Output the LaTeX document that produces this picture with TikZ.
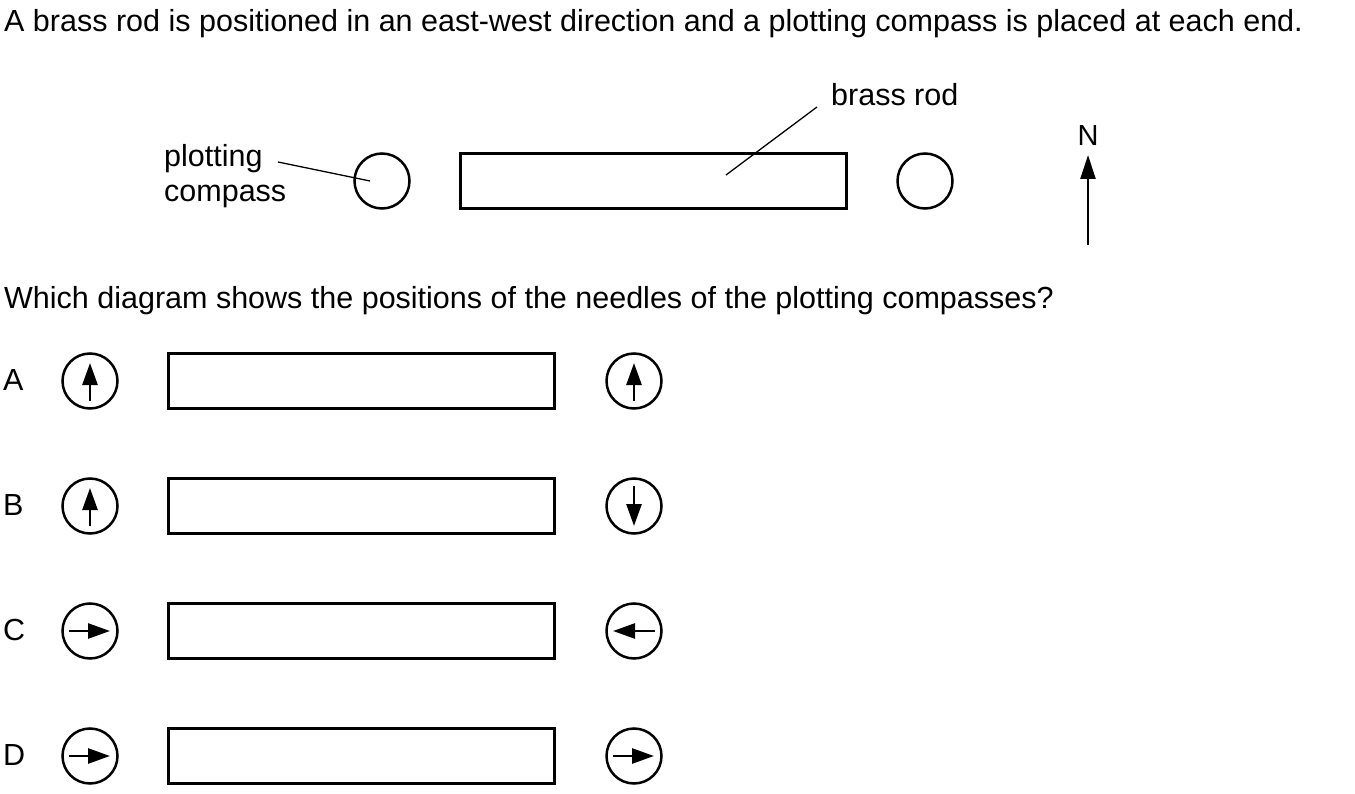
\documentclass[tikz,border=0pt]{standalone}
\usepackage{fontspec}
\setmainfont{Liberation Sans}
\usetikzlibrary{arrows.meta}
\tikzset{
  txt/.style={inner sep=0pt, anchor=base west, font=\fontsize{30.5}{35}\selectfont},
  compass/.style={draw, circle, line width=2.5pt, minimum size=55pt, inner sep=0pt},
  rod/.style={draw, rectangle, line width=2.8pt, minimum width=386pt, minimum height=55pt, inner sep=0pt},
  leader/.style={line width=1.3pt},
  needle/.style={line width=2.6pt, -{Triangle[length=22pt,width=15pt]}},
  northarrow/.style={line width=2.6pt, -{Triangle[length=24pt,width=15pt]}}
}
\begin{document}
\begin{tikzpicture}[x=1pt,y=-1pt]
\useasboundingbox (0,0) rectangle (1355,794);
% top sentence
\node[txt] (t1) at (4,32) {A brass rod is positioned in an east-west direction and a plotting compass is placed at each end.};
% top diagram
\node[compass] (pc1) at (382,181) {};
\node[rod] (rod0) at (653.5,181) {};
\node[compass] (pc2) at (925,181) {};
\node[txt] (lp) at (164,167) {plotting};
\node[txt] (lc) at (164,202) {compass};
\coordinate (lpA) at (278,162);
\coordinate (lpB) at (370,181);
\draw[leader] (lpA) -- (lpB);
\node[txt] (lb) at (831,106) {brass rod};
\coordinate (lbA) at (817,107);
\coordinate (lbB) at (726,175);
\draw[leader] (lbA) -- (lbB);
\node[inner sep=0pt, anchor=base, font=\fontsize{29}{33}\selectfont] (N) at (1088,146) {N};
\coordinate (nA) at (1088,245);
\coordinate (nB) at (1088,155);
\draw[northarrow] (nA) -- (nB);
% question
\node[txt] (t2) at (4,309) {Which diagram shows the positions of the needles of the plotting compasses?};
% options
\foreach \lab/\y in {A/381,B/506,C/631,D/756}{
  \node[txt] (L\lab) at (3,\y+9) {\lab};
  \node[compass] (cl\lab) at (90,\y) {};
  \node[rod] (r\lab) at (361.5,\y) {};
  \node[compass] (cr\lab) at (634,\y) {};
}
% needles
\draw[needle] ([yshift=-20pt]clA.center) -- ([yshift=18pt]clA.center);
\draw[needle] ([yshift=-20pt]crA.center) -- ([yshift=18pt]crA.center);
\draw[needle] ([yshift=-20pt]clB.center) -- ([yshift=18pt]clB.center);
\draw[needle] ([yshift=20pt]crB.center) -- ([yshift=-20pt]crB.center);
\draw[needle] ([xshift=-21pt]clC.center) -- ([xshift=20pt]clC.center);
\draw[needle] ([xshift=21pt]crC.center) -- ([xshift=-21pt]crC.center);
\draw[needle] ([xshift=-21pt]clD.center) -- ([xshift=20pt]clD.center);
\draw[needle] ([xshift=-21pt]crD.center) -- ([xshift=20pt]crD.center);
\end{tikzpicture}
\end{document}
